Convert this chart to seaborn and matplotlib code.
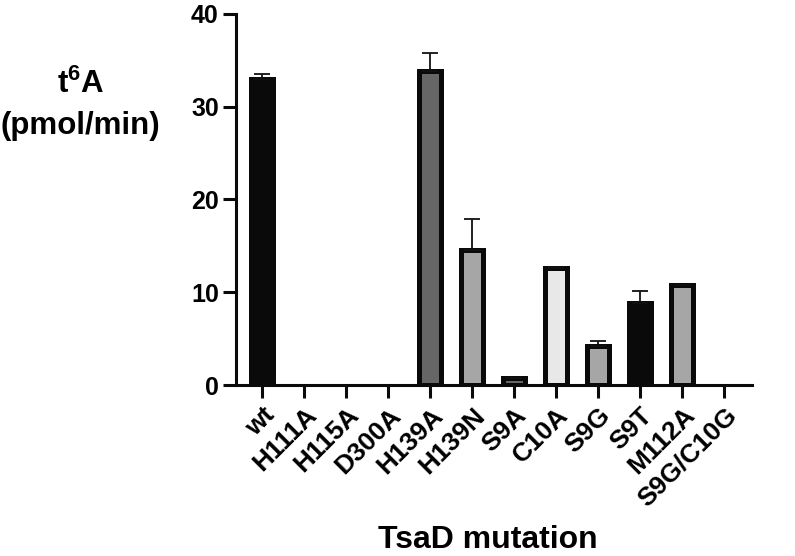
import matplotlib
matplotlib.use("Agg")
import matplotlib.pyplot as plt
import seaborn as sns
import pandas as pd

# === DATA ===
mutations = ["wt", "H111A", "H115A", "D300A", "H139A", "H139N",
             "S9A", "C10A", "S9G", "S9T", "M112A", "S9G/C10G"]
t6a_rate = [33.0, 0, 0, 0, 33.8, 14.6, 0.8, 12.6, 4.2, 8.8, 10.8, 0]
t6a_sd = [0.5, 0, 0, 0, 2.0, 3.3, 0, 0.1, 0.5, 1.3, 0, 0]
bar_colors = ["#0a0a0a", "#ffffff", "#ffffff", "#ffffff", "#666666", "#a6a6a6",
              "#666666", "#e8e8e8", "#a6a6a6", "#0a0a0a", "#a6a6a6", "#ffffff"]

df = pd.DataFrame({"mutation": mutations, "rate": t6a_rate})

sns.set_style("ticks")
plt.rcParams["font.family"] = ["Liberation Sans", "DejaVu Sans"]
plt.rcParams["font.weight"] = "bold"
plt.rcParams["text.color"] = "black"
plt.rcParams["axes.labelcolor"] = "black"
plt.rcParams["xtick.color"] = "black"
plt.rcParams["ytick.color"] = "black"
plt.rcParams["mathtext.fontset"] = "custom"
plt.rcParams["mathtext.rm"] = "Liberation Sans:bold"
plt.rcParams["mathtext.bf"] = "Liberation Sans:bold"
plt.rcParams["mathtext.default"] = "bf"

fig = plt.figure(figsize=(7.95, 5.56), dpi=100)
ax = fig.add_axes([0.297, 0.3075, 0.649, 0.6675])

sns.barplot(data=df, x="mutation", y="rate", hue="mutation",
            palette=bar_colors, legend=False, width=0.53,
            edgecolor="#0a0a0a", linewidth=3.6, ax=ax)

# zero-height bars show nothing in the original
for patch in ax.patches:
    if patch.get_height() == 0:
        patch.set_linewidth(0)

# upper-only error bars, like the original
xs = list(range(len(mutations)))
ax.errorbar(xs, t6a_rate, yerr=[[0] * len(t6a_sd), t6a_sd], fmt="none",
            ecolor="#111111", elinewidth=1.3, capsize=5.5, capthick=1.3, zorder=1)

ax.set_ylim(0, 40)
ax.set_yticks([0, 10, 20, 30, 40])
ax.set_xlim(-0.625, 11.66)
sns.despine(ax=ax)
for side in ["left", "bottom"]:
    ax.spines[side].set_linewidth(2.2)
    ax.spines[side].set_color("#0a0a0a")
ax.tick_params(axis="both", length=9.5, width=2.2, color="#0a0a0a")
ax.tick_params(axis="y", pad=3, labelsize=18)
ax.set_xticks(xs)
ax.set_xticklabels(mutations, rotation=45, ha="right", rotation_mode="anchor",
                   fontweight="bold", fontsize=19)
for lbl in ax.get_yticklabels():
    lbl.set_fontweight("bold")

ax.set_ylabel("t$^{6}$A\n(pmol/min)", rotation=0, fontsize=22.5, fontweight="bold",
              ha="center", va="center", linespacing=1.45)
ax.yaxis.set_label_coords(-0.302, 0.755)
ax.set_xlabel("TsaD mutation", fontsize=23, fontweight="bold", va="center")
ax.xaxis.set_label_coords(0.488, -0.418)

fig.savefig("out.png", dpi=100)
